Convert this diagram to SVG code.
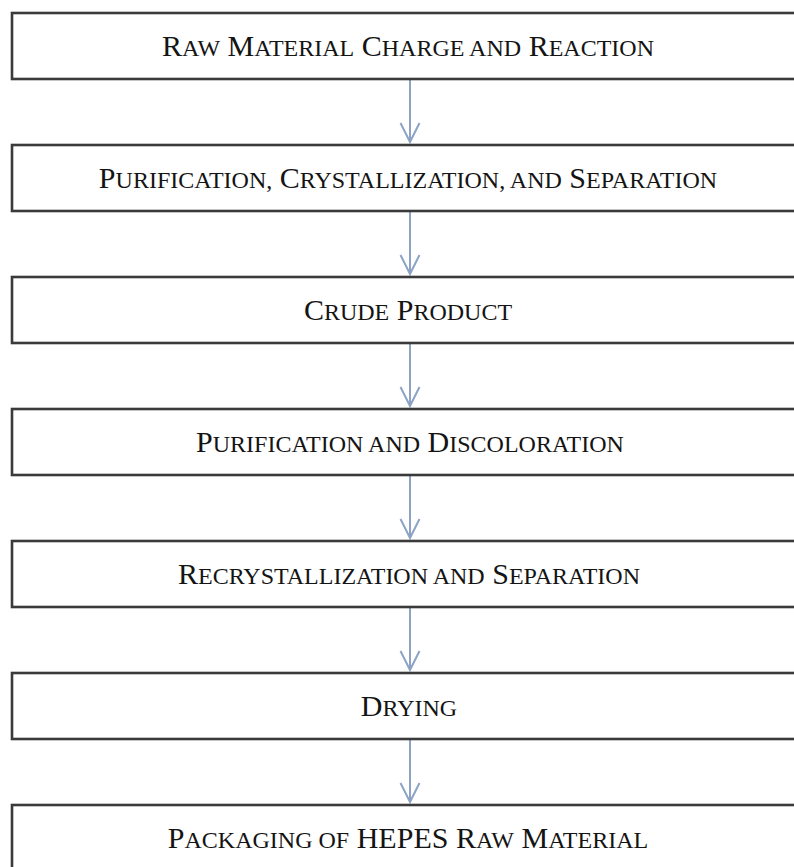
<svg xmlns="http://www.w3.org/2000/svg" width="794" height="867" viewBox="0 0 794 867">
<style>
.box{fill:#ffffff;stroke:#3a3a3a;stroke-width:2.6}
.lbl{font-family:"Liberation Serif","Times New Roman",serif;font-size:30px;fill:#141414;text-anchor:middle}
.sc{font-size:24px}
.conn line{stroke:#8ca3c6;stroke-width:2}
</style>
<defs>
<marker id="arr" viewBox="-1 -11 22 22" refX="19" refY="0" markerWidth="22" markerHeight="22" markerUnits="userSpaceOnUse" orient="auto">
<path d="M0,-9.5 L19,0 L0,9.5" fill="none" stroke="#8ca3c6" stroke-width="2"/>
</marker>
</defs>
<rect width="794" height="867" fill="#ffffff"/>
<g class="conn">
<line x1="410" y1="80" x2="410" y2="142" marker-end="url(#arr)"/>
<line x1="410" y1="212" x2="410" y2="274" marker-end="url(#arr)"/>
<line x1="410" y1="344" x2="410" y2="406" marker-end="url(#arr)"/>
<line x1="410" y1="476" x2="410" y2="538" marker-end="url(#arr)"/>
<line x1="410" y1="608" x2="410" y2="670" marker-end="url(#arr)"/>
<line x1="410" y1="740" x2="410" y2="802" marker-end="url(#arr)"/>
</g>
<g id="n1"><rect class="box" x="12" y="13" width="800" height="66"/><text class="lbl" x="408" y="56">R<tspan class="sc">AW</tspan> M<tspan class="sc">ATERIAL</tspan> C<tspan class="sc">HARGE AND</tspan> R<tspan class="sc">EACTION</tspan></text></g>
<g id="n2"><rect class="box" x="12" y="145" width="800" height="66"/><text class="lbl" x="408" y="188">P<tspan class="sc">URIFICATION,</tspan> C<tspan class="sc">RYSTALLIZATION, AND</tspan> S<tspan class="sc">EPARATION</tspan></text></g>
<g id="n3"><rect class="box" x="12" y="277" width="800" height="66"/><text class="lbl" x="408" y="320">C<tspan class="sc">RUDE</tspan> P<tspan class="sc">RODUCT</tspan></text></g>
<g id="n4"><rect class="box" x="12" y="409" width="800" height="66"/><text class="lbl" x="410" y="452">P<tspan class="sc">URIFICATION AND</tspan> D<tspan class="sc">ISCOLORATION</tspan></text></g>
<g id="n5"><rect class="box" x="12" y="541" width="800" height="66"/><text class="lbl" x="409" y="584">R<tspan class="sc">ECRYSTALLIZATION AND</tspan> S<tspan class="sc">EPARATION</tspan></text></g>
<g id="n6"><rect class="box" x="12" y="673" width="800" height="66"/><text class="lbl" x="409" y="716">D<tspan class="sc">RYING</tspan></text></g>
<g id="n7"><rect class="box" x="12" y="805" width="800" height="66"/><text class="lbl" x="408" y="848">P<tspan class="sc">ACKAGING OF</tspan> HEPES R<tspan class="sc">AW</tspan> M<tspan class="sc">ATERIAL</tspan></text></g>
</svg>
